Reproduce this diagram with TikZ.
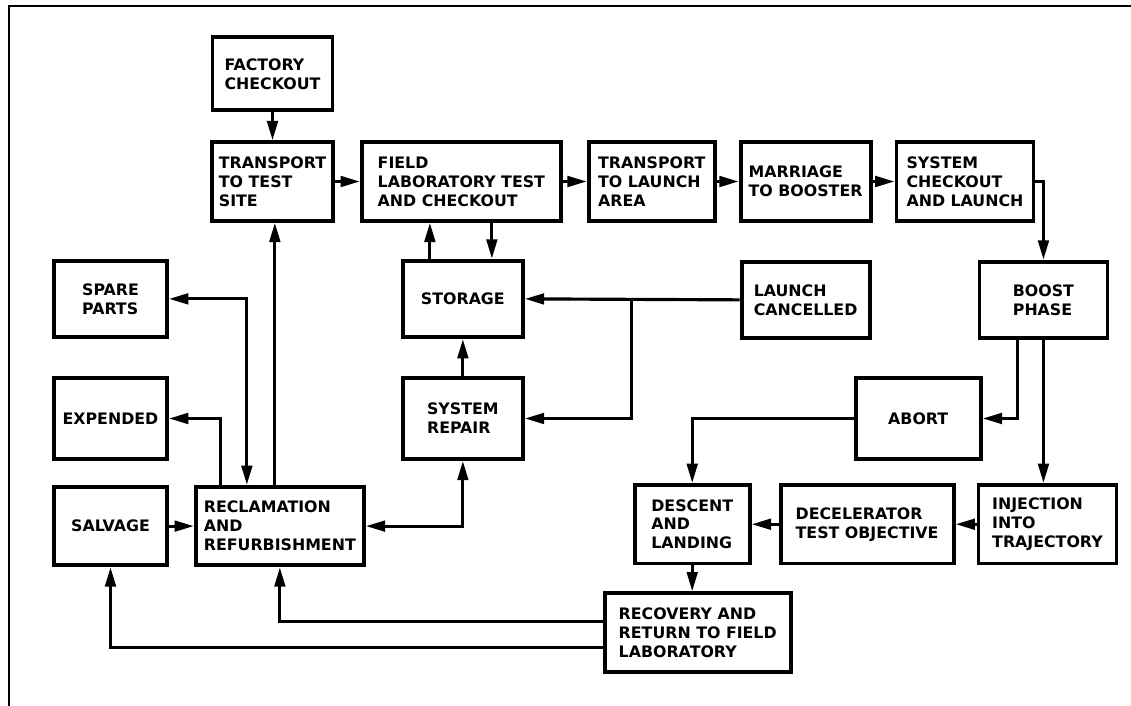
\documentclass[tikz,border=0pt]{standalone}
\usepackage{fontspec}
\setsansfont{DejaVu Sans}
\usepackage{tikz}
\usetikzlibrary{arrows.meta, positioning}

\begin{document}
\begin{tikzpicture}[
  node distance=0.5cm and 0.5cm,
  box/.style={draw, line width=2.2pt, align=left, inner sep=2pt,
              font=\sffamily\bfseries\fontsize{9}{10.8}\selectfont,
              minimum height=1.57cm},
  arr/.style={-{Triangle[length=11pt, width=6pt]}, line width=1.8pt},
  barr/.style={{Triangle[length=11pt, width=6pt]}-{Triangle[length=11pt, width=6pt]}, line width=1.8pt},
]

% page area and frame
\useasboundingbox (0,0) rectangle (22.62,-14.12);
\draw[line width=1.4pt] (0.18,-14.12) -- (0.18,-0.12) -- (22.62,-0.12);

% Top row: factory to launch
\node[box, minimum width=2.42cm] (tts) at (5.45,-3.63) {TRANSPORT\\TO TEST\\SITE};
\node[box, minimum width=2.4cm, minimum height=1.46cm, above=0.56cm of tts] (factory) {FACTORY\\CHECKOUT};
\node[box, minimum width=3.98cm, right=0.5cm of tts] (field) {FIELD\\LABORATORY TEST\\AND CHECKOUT};
\node[box, minimum width=2.52cm, right=0.48cm of field] (tla) {TRANSPORT\\TO LAUNCH\\AREA};
\node[box, minimum width=2.6cm, right=0.44cm of tla] (marriage) {MARRIAGE\\TO BOOSTER};
\node[box, minimum width=2.74cm, right=0.44cm of marriage] (launch) {SYSTEM\\CHECKOUT\\AND LAUNCH};

% Second row
\node[box, minimum width=2.4cm, minimum height=1.53cm, below=0.72cm of field, xshift=0.03cm] (storage) {STORAGE};
\node[box, minimum width=2.26cm, minimum height=1.53cm, left=4.64cm of storage] (spare) {SPARE\\PARTS};
\node[box, minimum width=2.56cm, minimum height=1.53cm, below=0.74cm of marriage] (cancel) {LAUNCH\\CANCELLED};
\node[box, minimum width=2.56cm, minimum height=1.53cm, right=2.12cm of cancel] (boost) {BOOST\\PHASE};

% Third row
\node[box, minimum width=2.4cm, minimum height=1.62cm, below=0.74cm of storage] (repair) {SYSTEM\\REPAIR};
\node[box, minimum width=2.26cm, minimum height=1.62cm, below=0.74cm of spare] (expended) {EXPENDED};
\node[box, minimum width=2.5cm, minimum height=1.62cm, right=6.58cm of repair] (abort) {ABORT};

% Fourth row
\node[box, minimum width=2.26cm, below=0.48cm of expended] (salvage) {SALVAGE};
\node[box, minimum width=3.36cm, right=0.5cm of salvage] (reclaim) {RECLAMATION\\AND\\REFURBISHMENT};
\node[box, minimum width=2.76cm, below=2.86cm of boost, xshift=0.08cm] (inject) {INJECTION\\INTO\\TRAJECTORY};
\node[box, minimum width=3.46cm, left=0.42cm of inject] (decel) {DECELERATOR\\TEST OBJECTIVE};
\node[box, minimum width=2.3cm, left=0.54cm of decel] (descent) {DESCENT\\AND\\LANDING};

% Recovery
\node[box, minimum width=3.72cm, below=0.52cm of descent, xshift=0.11cm] (recovery) {RECOVERY AND\\RETURN TO FIELD\\LABORATORY};

% Main flow along the top
\draw[arr] (factory) -- (tts);
\draw[arr] (tts) -- (field);
\draw[arr] (field) -- (tla);
\draw[arr] (tla) -- (marriage);
\draw[arr] (marriage) -- (launch);
\draw[arr] (launch.east) -| (boost.north);

% Storage and repair loop
\draw[arr] ([xshift=-0.66cm]storage.north) -- ([xshift=-0.66cm]storage.north |- field.south);
\draw[arr] ([xshift=0.58cm]storage.north |- field.south) -- ([xshift=0.58cm]storage.north);
\draw[arr] (cancel.west) -- (storage.east);
\coordinate (split) at ([xshift=-2.16cm]cancel.west);
\draw[arr] (split) |- (repair.east);
\draw[arr] (repair) -- (storage);

% Flight branches
\draw[arr] ([xshift=-0.52cm]boost.south) |- (abort.east);
\draw[arr] (boost.south) -- (boost.south |- inject.north);
\draw[arr] (abort.west) -| (descent.north);
\draw[arr] (inject) -- (decel);
\draw[arr] (decel) -- (descent);
\draw[arr] (descent.south) -- (descent.south |- recovery.north);

% Return to field laboratory
\draw[arr] ([yshift=0.22cm]recovery.west) -| (reclaim.south);
\draw[arr] ([yshift=-0.3cm]recovery.west) -| (salvage.south);
\draw[arr] (salvage) -- (reclaim);
\draw[barr] (reclaim.east) -| (repair.south);
\draw[arr] ([xshift=-0.1cm]reclaim.north) -- ([xshift=-0.1cm]reclaim.north |- tts.south);
\draw[arr] ([xshift=-1.18cm]reclaim.north) |- (expended.east);
\draw[barr] ([xshift=-0.66cm]reclaim.north) |- (spare.east);

\end{tikzpicture}
\end{document}
